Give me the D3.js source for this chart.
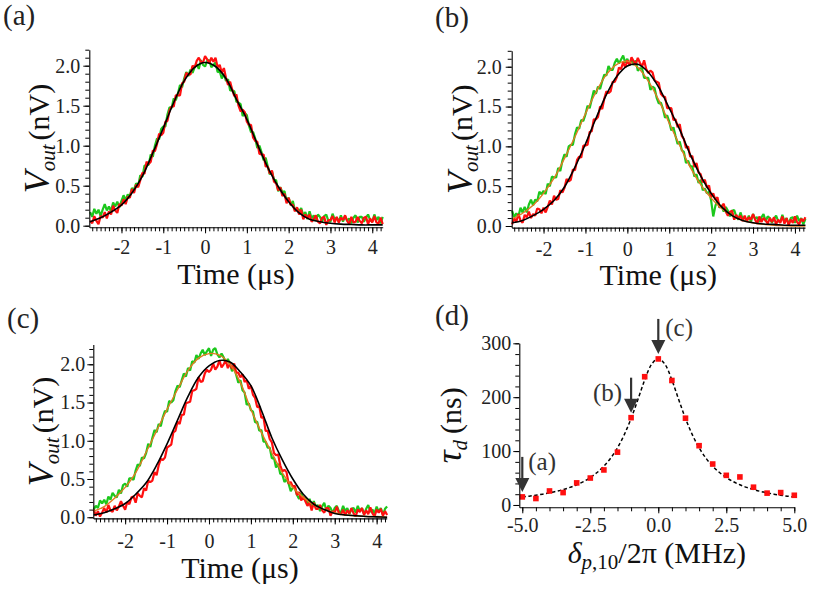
<html>
<head>
<meta charset="utf-8">
<script src="https://cdn.jsdelivr.net/npm/d3@7"></script>
</head>
<body style="margin:0">
<svg id="fig" width="830" height="591"></svg>
<script>
// Oscilloscope traces: sampled every 0.05 µs starting at -2.75 µs
const tStart = -2.75;
const tStep = 0.05;

const greenA = [0.17,0.11,0.21,0.15,0.20, 0.12,0.20,0.27,0.19,0.24, 0.18,0.29,0.24,0.30,0.23, 0.31,0.38,0.32,0.39,0.37,
  0.47,0.45,0.53,0.50,0.63, 0.61,0.75,0.76,0.76,0.89, 0.86,1.00,1.09,1.08,1.21, 1.24,1.24,1.39,1.48,1.47,
  1.59,1.57,1.65,1.76,1.73, 1.84,1.92,1.87,1.95,1.91, 1.98,2.02,1.96,2.07,2.01, 1.99,2.06,2.07,1.98,2.01,
  2.04,1.92,1.93,1.84,1.90, 1.81,1.83,1.69,1.69,1.68, 1.55,1.54,1.52,1.37,1.41, 1.38,1.25,1.17,1.17,1.09,
  0.97,1.00,0.92,0.82,0.85, 0.74,0.64,0.68,0.57,0.57, 0.43,0.48,0.42,0.43,0.31, 0.35,0.26,0.31,0.19,0.22,
  0.18,0.22,0.13,0.17,0.08, 0.18,0.09,0.13,0.06,0.14, 0.11,0.05,0.12,0.14,0.06, 0.05,0.15,0.08,0.10,0.05,
  0.13,0.05,0.12,0.06,0.09, 0.03,0.10,0.13,0.04,0.11, 0.11,0.05,0.10,0.14,0.07, 0.05,0.14,0.07,0.11,0.03, 0.11];

const redA = [0.06,0.03,0.12,0.06,0.02, 0.12,0.10,0.17,0.09,0.18, 0.14,0.25,0.19,0.16,0.27, 0.25,0.33,0.27,0.36,0.35,
  0.46,0.41,0.51,0.48,0.57, 0.66,0.65,0.80,0.77,0.80, 0.94,0.93,1.02,1.15,1.13, 1.16,1.30,1.31,1.44,1.49,
  1.49,1.63,1.63,1.63,1.78, 1.80,1.91,1.89,1.89,2.00, 1.98,2.06,2.10,2.05,2.04, 2.12,2.08,2.03,2.10,2.05,
  2.10,1.98,2.01,1.91,1.97, 1.85,1.76,1.80,1.70,1.62, 1.64,1.50,1.43,1.45,1.42, 1.30,1.26,1.26,1.10,1.06,
  1.05,0.90,0.89,0.89,0.74, 0.74,0.65,0.69,0.55,0.53, 0.44,0.48,0.37,0.40,0.28, 0.35,0.26,0.26,0.18,0.23,
  0.14,0.20,0.08,0.14,0.09, 0.14,0.05,0.08,0.13,0.05, 0.03,0.10,0.11,0.01,0.07, 0.07,0.12,0.04,0.11,0.04,
  0.10,0.07,0.13,0.06,0.02, 0.11,0.04,0.05,0.11,0.06, 0.03,0.10,0.11,0.02,0.09, 0.04,0.12,0.04,0.03,0.10, 0.02];

const greenB = [0.19,0.11,0.16,0.12,0.23, 0.17,0.24,0.17,0.27,0.33, 0.26,0.33,0.31,0.43,0.40, 0.44,0.40,0.53,0.50,0.62,
  0.61,0.61,0.73,0.69,0.82, 0.90,0.87,1.00,1.02,1.02, 1.15,1.24,1.22,1.33,1.32, 1.40,1.51,1.48,1.59,1.70,
  1.66,1.75,1.72,1.82,1.90, 1.89,2.01,1.96,1.96,2.05, 2.10,2.04,2.09,2.14,2.05, 2.10,2.02,2.10,2.02,2.08,
  1.95,1.98,1.98,1.86,1.86, 1.86,1.71,1.75,1.73,1.61, 1.54,1.55,1.47,1.36,1.39, 1.31,1.20,1.24,1.13,1.03,
  1.06,0.95,0.93,0.79,0.82, 0.75,0.75,0.62,0.65,0.54, 0.58,0.45,0.47,0.41,0.43, 0.32,0.12,0.25,0.33,0.23,
  0.26,0.18,0.24,0.19,0.12, 0.19,0.20,0.12,0.08,0.17, 0.09,0.11,0.06,0.13,0.05, 0.15,0.09,0.11,0.05,0.11,
  0.15,0.06,0.12,0.10,0.04, 0.09,0.13,0.06,0.05,0.14, 0.06,0.10,0.02,0.10,0.11, 0.04,0.13,0.06,0.10,0.02, 0.09];

const redB = [0.02,0.10,0.05,0.15,0.07, 0.04,0.14,0.11,0.18,0.10, 0.15,0.13,0.22,0.21,0.16, 0.23,0.17,0.24,0.32,0.27,
  0.38,0.33,0.34,0.45,0.42, 0.48,0.59,0.56,0.58,0.71, 0.70,0.83,0.87,0.86,1.01, 1.01,1.02,1.18,1.19,1.34,
  1.34,1.37,1.50,1.47,1.60, 1.69,1.67,1.69,1.81,1.81, 1.87,1.99,1.97,2.06,1.99, 2.08,2.02,2.12,2.07,2.03,
  2.11,2.05,2.00,2.08,1.97, 1.92,1.95,1.93,1.83,1.81, 1.80,1.66,1.63,1.62,1.48, 1.48,1.48,1.33,1.34,1.24,
  1.28,1.13,1.09,0.98,1.00, 0.87,0.88,0.74,0.79,0.67, 0.65,0.55,0.58,0.48,0.51, 0.36,0.41,0.33,0.36,0.24,
  0.24,0.28,0.18,0.13,0.18, 0.19,0.08,0.14,0.09,0.13, 0.06,0.13,0.06,0.11,0.08, 0.15,0.08,0.03,0.12,0.05,
  0.10,0.07,0.03,0.10,0.05, 0.11,0.02,0.08,0.04,0.12, 0.03,0.10,0.01,0.08,0.04, 0.12,0.05,0.02,0.09,0.06, 0.11];

const greenC = [0.10,0.15,0.12,0.22,0.18, 0.23,0.17,0.27,0.23,0.32, 0.28,0.26,0.36,0.31,0.42, 0.44,0.40,0.51,0.51,0.49,
  0.61,0.69,0.67,0.78,0.77, 0.84,0.96,0.92,1.04,1.14, 1.11,1.22,1.19,1.31,1.39, 1.38,1.52,1.50,1.53,1.65,
  1.72,1.70,1.79,1.88,1.84, 1.95,1.92,2.04,2.02,2.12, 2.07,2.14,2.19,2.12,2.17, 2.21,2.11,2.19,2.21,2.13,
  2.09,2.14,2.09,2.01,2.07, 2.01,1.91,1.95,1.86,1.76, 1.79,1.66,1.63,1.47,1.49, 1.40,1.38,1.24,1.25,1.13,
  1.14,0.99,0.99,0.91,0.91, 0.77,0.78,0.65,0.70,0.57, 0.56,0.46,0.50,0.44,0.34, 0.39,0.38,0.29,0.24,0.32,
  0.24,0.25,0.18,0.24,0.14, 0.21,0.14,0.16,0.08,0.14, 0.19,0.09,0.15,0.12,0.06, 0.12,0.15,0.08,0.06,0.15,
  0.08,0.12,0.04,0.11,0.12, 0.06,0.15,0.08,0.12,0.04, 0.11,0.16,0.07,0.10,0.05, 0.14,0.07,0.12,0.03,0.11, 0.14];

const redC = [0.10,0.02,0.08,0.01,0.06, 0.12,0.06,0.16,0.09,0.07, 0.15,0.09,0.14,0.21,0.15, 0.10,0.20,0.17,0.26,0.27,
  0.19,0.31,0.28,0.26,0.38, 0.35,0.48,0.46,0.48,0.59, 0.55,0.68,0.76,0.75,0.78, 0.91,0.93,0.95,1.11,1.13,
  1.25,1.22,1.34,1.34,1.49, 1.50,1.51,1.65,1.66,1.68, 1.83,1.77,1.78,1.88,1.93, 1.90,1.93,2.01,1.93,1.97,
  2.05,1.96,2.00,2.05,1.95, 2.01,1.94,2.01,1.89,1.89, 1.83,1.87,1.77,1.79,1.68, 1.72,1.60,1.56,1.44,1.45,
  1.30,1.31,1.13,1.13,1.02, 0.98,0.84,0.81,0.82,0.68, 0.60,0.62,0.59,0.44,0.46, 0.40,0.41,0.29,0.33,0.22,
  0.27,0.21,0.15,0.19,0.09, 0.19,0.11,0.11,0.16,0.09, 0.06,0.12,0.12,0.02,0.08, 0.06,0.14,0.05,0.04,0.10,
  0.02,0.09,0.05,0.12,0.05, 0.01,0.10,0.07,0.12,0.03, 0.09,0.04,0.13,0.05,0.01, 0.10,0.06,0.11,0.02,0.08, 0.03];

// Fitted pulses, read every 0.25 µs
const fitTimes = [-2.75,-2.5,-2.25,-2,-1.75,-1.5,-1.25,-1,-0.75,-0.5,-0.25,0,0.25,0.5,0.75,1,1.25,1.5,1.75,2,2.25,2.5,2.75,3,3.25,3.5,3.75,4,4.25];
const fitBlackA  = [0.05,0.10,0.17,0.26,0.41,0.62,0.91,1.22,1.54,1.81,1.98,2.04,1.99,1.84,1.58,1.33,1.02,0.73,0.49,0.30,0.16,0.08,0.05,0.03,0.02,0.015,0.01,0.01,0.01];
const fitBlackB  = [0.04,0.07,0.13,0.21,0.32,0.49,0.74,1.03,1.35,1.65,1.88,2.01,2.03,1.93,1.74,1.48,1.21,0.90,0.63,0.41,0.24,0.13,0.07,0.04,0.025,0.02,0.01,0.01,0.01];
const fitOrangeB = [0.09,0.16,0.26,0.41,0.60,0.85,1.12,1.41,1.68,1.90,2.03,2.07,1.99,1.82,1.58,1.29,1.01,0.74,0.52,0.35,0.22,0.13,0.07,0.04,0.02,0.01,0.005,0,0];
const fitBlackC  = [0.03,0.06,0.11,0.18,0.30,0.45,0.68,0.96,1.27,1.58,1.83,1.98,2.05,2.03,1.90,1.72,1.40,1.04,0.75,0.50,0.30,0.17,0.10,0.05,0.03,0.02,0.01,0.005,0];
const fitOrangeC = [0.08,0.14,0.25,0.39,0.58,0.85,1.13,1.41,1.67,1.92,2.08,2.14,2.12,2.00,1.76,1.41,1.11,0.84,0.58,0.39,0.26,0.16,0.10,0.06,0.03,0.02,0.01,0.01,0];

const timeTicks = [-2,-1,0,1,2,3,4];
const voltTicks = [0,0.5,1,1.5,2];

// Panel (d): group delay vs detuning
const detuningMHz = [-5,-4.5,-4,-3.5,-3,-2.5,-2,-1.5,-1,-0.5,0,0.5,1,1.5,2,2.5,3,3.5,4,4.5,5];
const delayNs = [15,12,26,23,41,50,65,98,162,238,271,231,161,110,76,55,52,33,22,23,18];
const fitDetuning = [-5,-4.75,-4.5,-4.25,-4,-3.75,-3.5,-3.25,-3,-2.75,-2.5,-2.25,-2,-1.75,-1.5,-1.25,-1,-0.75,-0.5,-0.25,0,
  0.25,0.5,0.75,1,1.25,1.5,1.75,2,2.25,2.5,2.75,3,3.25,3.5,3.75,4,4.25,4.5,4.75,5];
const fitDelay = [14.8,16.3,18.1,20.1,22.5,25.3,28.6,32.6,37.5,43.5,50.9,60.2,72.0,87.0,106.1,130.5,160.5,195.6,231.8,260.7,272,
  260.7,231.8,195.6,160.5,130.5,106.1,87.0,72.0,60.2,50.9,43.5,37.5,32.6,28.6,25.3,22.5,20.1,18.1,16.3,14.8];
const detuningTicks = [-5,-2.5,0,2.5,5];
const delayTicks = [0,100,200,300];
const arrowDetuning = [-5,-1,0];
const arrowDelay = [15,162,271];
const arrowLabels = ['(a)','(b)','(c)'];

const COLORS = { green: '#1cc81c', red: '#ff0f0f', orange: '#e27a22', black: '#000', arrow: '#333' };
const FONT = '"Liberation Serif"';

const svg = d3.select('#fig');

// every text gets its family inline
function serif(sel) { return sel.style('font-family', FONT); }

// Layout of the three time-domain panels
const timePanels = [
  { letter: '(a)', lx: 3, ly: 25, left: 89.3, right: 382.7, top: 49.7, bottom: 227.3,
    xDom: [-2.77, 4.25], yDom: [-0.02, 2.2], xPad: 7, yPad: 3, titleDy: 57,
    green: greenA, red: redA, black: fitBlackA, orange: null },
  { letter: '(b)', lx: 435, ly: 27, left: 511.7, right: 805, top: 50.8, bottom: 227.6,
    xDom: [-2.76, 4.24], yDom: [-0.02, 2.2], xPad: 8, yPad: 4, titleDy: 57,
    green: greenB, red: redB, black: fitBlackB, orange: fitOrangeB },
  { letter: '(c)', lx: 7, ly: 328, left: 93.3, right: 386.7, top: 344.4, bottom: 518.4,
    xDom: [-2.76, 4.24], yDom: [-0.015, 2.26], xPad: 9, yPad: 2, titleDy: 60,
    green: greenC, red: redC, black: fitBlackC, orange: fitOrangeC }
];

function styleAxis(g) {
  g.attr('font-size', 20);
  g.selectAll('.domain').attr('stroke', '#000').attr('stroke-width', 1.1);
  g.selectAll('.tick line').attr('stroke', '#000').attr('stroke-width', 1);
  g.selectAll('.tick text').attr('fill', '#222').attr('font-size', 20).call(serif);
}

function drawAxes(p, x, y, opts) {
  // minor ticks first, then labelled major ticks on top
  svg.append('g')
    .attr('transform', `translate(0,${p.bottom})`)
    .call(d3.axisBottom(x).tickValues(opts.xMinor).tickSize(4).tickSizeOuter(0).tickFormat(''))
    .call(g => { styleAxis(g); g.select('.domain').remove(); g.selectAll('text').remove(); });
  svg.append('g')
    .attr('transform', `translate(0,${p.bottom})`)
    .call(d3.axisBottom(x).tickValues(opts.xMajor).tickSize(6).tickSizeOuter(0)
      .tickPadding(p.xPad).tickFormat(opts.xFmt))
    .call(styleAxis);
  svg.append('g')
    .attr('transform', `translate(${p.left},0)`)
    .call(d3.axisLeft(y).tickValues(opts.yMinor).tickSize(4).tickSizeOuter(0).tickFormat(''))
    .call(g => { styleAxis(g); g.select('.domain').remove(); g.selectAll('text').remove(); });
  svg.append('g')
    .attr('transform', `translate(${p.left},0)`)
    .call(d3.axisLeft(y).tickValues(opts.yMajor).tickSize(6).tickSizeOuter(0)
      .tickPadding(p.yPad).tickFormat(opts.yFmt))
    .call(styleAxis);
}

function panelLetter(text, x, y) {
  svg.append('text').attr('x', x).attr('y', y)
    .call(serif)
    .attr('font-size', 29).attr('fill', '#222').text(text);
}

timePanels.forEach(p => {
  const x = d3.scaleLinear().domain(p.xDom).range([p.left, p.right]);
  const y = d3.scaleLinear().domain(p.yDom).range([p.bottom, p.top]);

  const traceLine = d3.line()
    .x((d, i) => x(tStart + i * tStep))
    .y(d => y(d));
  const fitLine = d3.line()
    .x((d, i) => x(fitTimes[i]))
    .y(d => y(d))
    .curve(d3.curveCatmullRom);

  svg.append('path').datum(p.green).attr('d', traceLine)
    .attr('fill', 'none').attr('stroke', COLORS.green).attr('stroke-width', 2.2)
    .attr('stroke-linejoin', 'bevel');
  svg.append('path').datum(p.red).attr('d', traceLine)
    .attr('fill', 'none').attr('stroke', COLORS.red).attr('stroke-width', 2.2)
    .attr('stroke-linejoin', 'bevel');
  if (p.orange) {
    svg.append('path').datum(p.orange).attr('d', fitLine)
      .attr('fill', 'none').attr('stroke', COLORS.orange).attr('stroke-width', 1.4);
  }
  svg.append('path').datum(p.black).attr('d', fitLine)
    .attr('fill', 'none').attr('stroke', COLORS.black).attr('stroke-width', 1.6);

  drawAxes(p, x, y, {
    xMinor: d3.range(-27, 43).map(k => k / 10),
    xMajor: timeTicks,
    xFmt: d => String(d),
    yMinor: d3.range(0, 23).map(k => k / 10),
    yMajor: voltTicks,
    yFmt: d => d.toFixed(1)
  });

  // axis titles
  const cx = (p.left + p.right) / 2;
  svg.append('text').attr('x', cx).attr('y', p.bottom + p.titleDy)
    .call(serif)
    .attr('text-anchor', 'middle').attr('font-size', 30).attr('fill', '#111')
    .text('Time (μs)');

  const cy = (p.top + p.bottom) / 2;
  const yt = svg.append('text')
    .attr('transform', `translate(${p.left - 40},${cy}) rotate(-90)`)
    .call(serif)
    .attr('text-anchor', 'middle').attr('font-size', 30).attr('fill', '#111');
  yt.append('tspan').call(serif).style('font-style', 'italic').attr('font-size', 36).text('V');
  yt.append('tspan').call(serif).style('font-style', 'italic').attr('font-size', 21).attr('dy', 6).text('out');
  yt.append('tspan').call(serif).attr('dy', -6).attr('dx', 4).text('(nV)');

  panelLetter(p.letter, p.lx, p.ly);
});

// Panel (d)
const pd = { left: 519.3, right: 794.3, top: 343.3, bottom: 507.3, xDom: [-5.11, 5.0], yDom: [-4.3, 300], xPad: 5, yPad: 2 };
const xd = d3.scaleLinear().domain(pd.xDom).range([pd.left, pd.right]);
const yd = d3.scaleLinear().domain(pd.yDom).range([pd.bottom, pd.top]);

svg.append('path')
  .datum(fitDelay)
  .attr('d', d3.line().x((d, i) => xd(fitDetuning[i])).y(d => yd(d)).curve(d3.curveCatmullRom))
  .attr('fill', 'none').attr('stroke', '#000').attr('stroke-width', 1.5)
  .attr('stroke-dasharray', '3.5,2.5');

svg.append('g').selectAll('rect')
  .data(delayNs)
  .join('rect')
  .attr('x', (d, i) => xd(detuningMHz[i]) - 2.8)
  .attr('y', d => yd(d) - 2.8)
  .attr('width', 5.6).attr('height', 5.6)
  .attr('fill', COLORS.red);

drawAxes(pd, xd, yd, {
  xMinor: d3.range(-10, 11).map(k => k / 2),
  xMajor: detuningTicks,
  xFmt: d => d.toFixed(1),
  yMinor: d3.range(0, 16).map(k => k * 20),
  yMajor: delayTicks,
  yFmt: d => String(d)
});

// arrows marking the detunings of panels (a)-(c)
const arrowSide = [
  { anchor: 'start', dx: 6, dy: 13 },
  { anchor: 'end', dx: -9, dy: 23 },
  { anchor: 'start', dx: 7, dy: 17 }
];
arrowDetuning.forEach((det, i) => {
  const ax = xd(det);
  const tip = yd(arrowDelay[i]) - 5;
  const topY = tip - 35;
  svg.append('line').attr('x1', ax).attr('x2', ax).attr('y1', topY).attr('y2', tip - 10)
    .attr('stroke', COLORS.arrow).attr('stroke-width', 2.2);
  svg.append('path')
    .attr('d', `M${ax - 7},${tip - 14} L${ax + 7},${tip - 14} L${ax},${tip} Z`)
    .attr('fill', COLORS.arrow);
  svg.append('text')
    .attr('x', ax + arrowSide[i].dx).attr('y', topY + arrowSide[i].dy)
    .call(serif)
    .attr('text-anchor', arrowSide[i].anchor)
    .attr('font-size', 25).attr('fill', '#333')
    .text(arrowLabels[i]);
});

// axis titles for (d)
const yl = svg.append('text')
  .attr('transform', `translate(${pd.left - 58},${(pd.top + pd.bottom) / 2}) rotate(-90)`)
  .call(serif)
  .attr('text-anchor', 'middle').attr('font-size', 30).attr('fill', '#111');
yl.append('tspan').call(serif).style('font-style', 'italic').attr('font-size', 36).text('τ');
yl.append('tspan').call(serif).style('font-style', 'italic').attr('font-size', 21).attr('dy', 6).text('d');
yl.append('tspan').call(serif).attr('dy', -6).attr('dx', 6).text('(ns)');

const xl = svg.append('text')
  .attr('x', (pd.left + pd.right) / 2).attr('y', 563)
  .call(serif)
  .attr('text-anchor', 'middle').attr('font-size', 30).attr('fill', '#111');
xl.append('tspan').call(serif).style('font-style', 'italic').text('δ');
xl.append('tspan').call(serif).style('font-style', 'italic').attr('font-size', 21).attr('dy', 6).text('p');
xl.append('tspan').call(serif).attr('font-size', 21).text(',10');
xl.append('tspan').call(serif).attr('dy', -6).text('/2π (MHz)');

panelLetter('(d)', 435, 325);
</script>
</body>
</html>
